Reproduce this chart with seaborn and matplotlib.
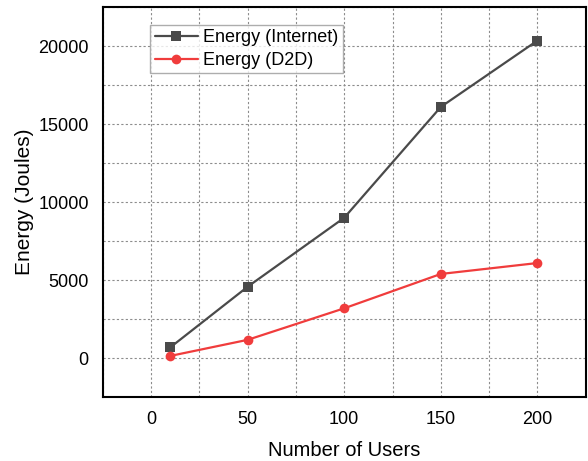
import pandas as pd
import numpy as np
import matplotlib
matplotlib.use("Agg")
import matplotlib.pyplot as plt
import seaborn as sns
from matplotlib.ticker import MultipleLocator

users = [10, 50, 100, 150, 200]
energy_internet = [700, 4580, 9000, 16100, 20350]
energy_d2d = [150, 1180, 3200, 5400, 6100]
series_names = ["Energy (Internet)", "Energy (D2D)"]

df = pd.DataFrame({
    "users": users * 2,
    "energy": energy_internet + energy_d2d,
    "series": [series_names[0]] * len(users) + [series_names[1]] * len(users),
})

sns.set_style("white")
plt.rcParams['font.family'] = ['Liberation Sans', 'DejaVu Sans']
plt.rcParams['text.color'] = 'black'
plt.rcParams['axes.labelcolor'] = 'black'
plt.rcParams['xtick.color'] = 'black'
plt.rcParams['ytick.color'] = 'black'

fig = plt.figure(figsize=(5.88, 4.61), dpi=100)
ax = fig.add_axes([0.1747, 0.1382, 0.9961 - 0.1747, 0.9848 - 0.1382])

palette = {series_names[0]: "#4a4a4a", series_names[1]: "#f03c3c"}
markers = {series_names[0]: "s", series_names[1]: "o"}
sns.lineplot(data=df, x="users", y="energy", hue="series", style="series",
             palette=palette, markers=markers, dashes=False, ax=ax,
             linewidth=1.6, markersize=7, markeredgewidth=0)

ax.set_xlim(-25, 225)
ax.set_ylim(-2500, 22500)
ax.xaxis.set_major_locator(MultipleLocator(50))
ax.xaxis.set_minor_locator(MultipleLocator(25))
ax.yaxis.set_major_locator(MultipleLocator(5000))
ax.yaxis.set_minor_locator(MultipleLocator(2500))
ax.grid(True, which="both", color="#8c8c8c", linestyle=(0, (2, 2)), linewidth=0.8)
ax.set_axisbelow(True)
ax.tick_params(which="both", length=0, labelsize=13, pad=10)

for s in ax.spines.values():
    s.set_color("black")
    s.set_linewidth(1.5)

ax.set_xlabel("Number of Users", fontsize=14.5, labelpad=9)
ax.set_ylabel("Energy (Joules)", fontsize=15, labelpad=3)

handles, labels = ax.get_legend_handles_labels()
leg = ax.legend(handles, labels, loc="upper left", bbox_to_anchor=(0.098, 0.954),
                borderaxespad=0, fontsize=13, frameon=True, fancybox=False,
                handlelength=2.4, handletextpad=0.3, labelspacing=0.3,
                borderpad=0.25)
leg.get_frame().set_edgecolor("#999999")
leg.get_frame().set_linewidth(1.0)

fig.savefig("out.png", dpi=100)
